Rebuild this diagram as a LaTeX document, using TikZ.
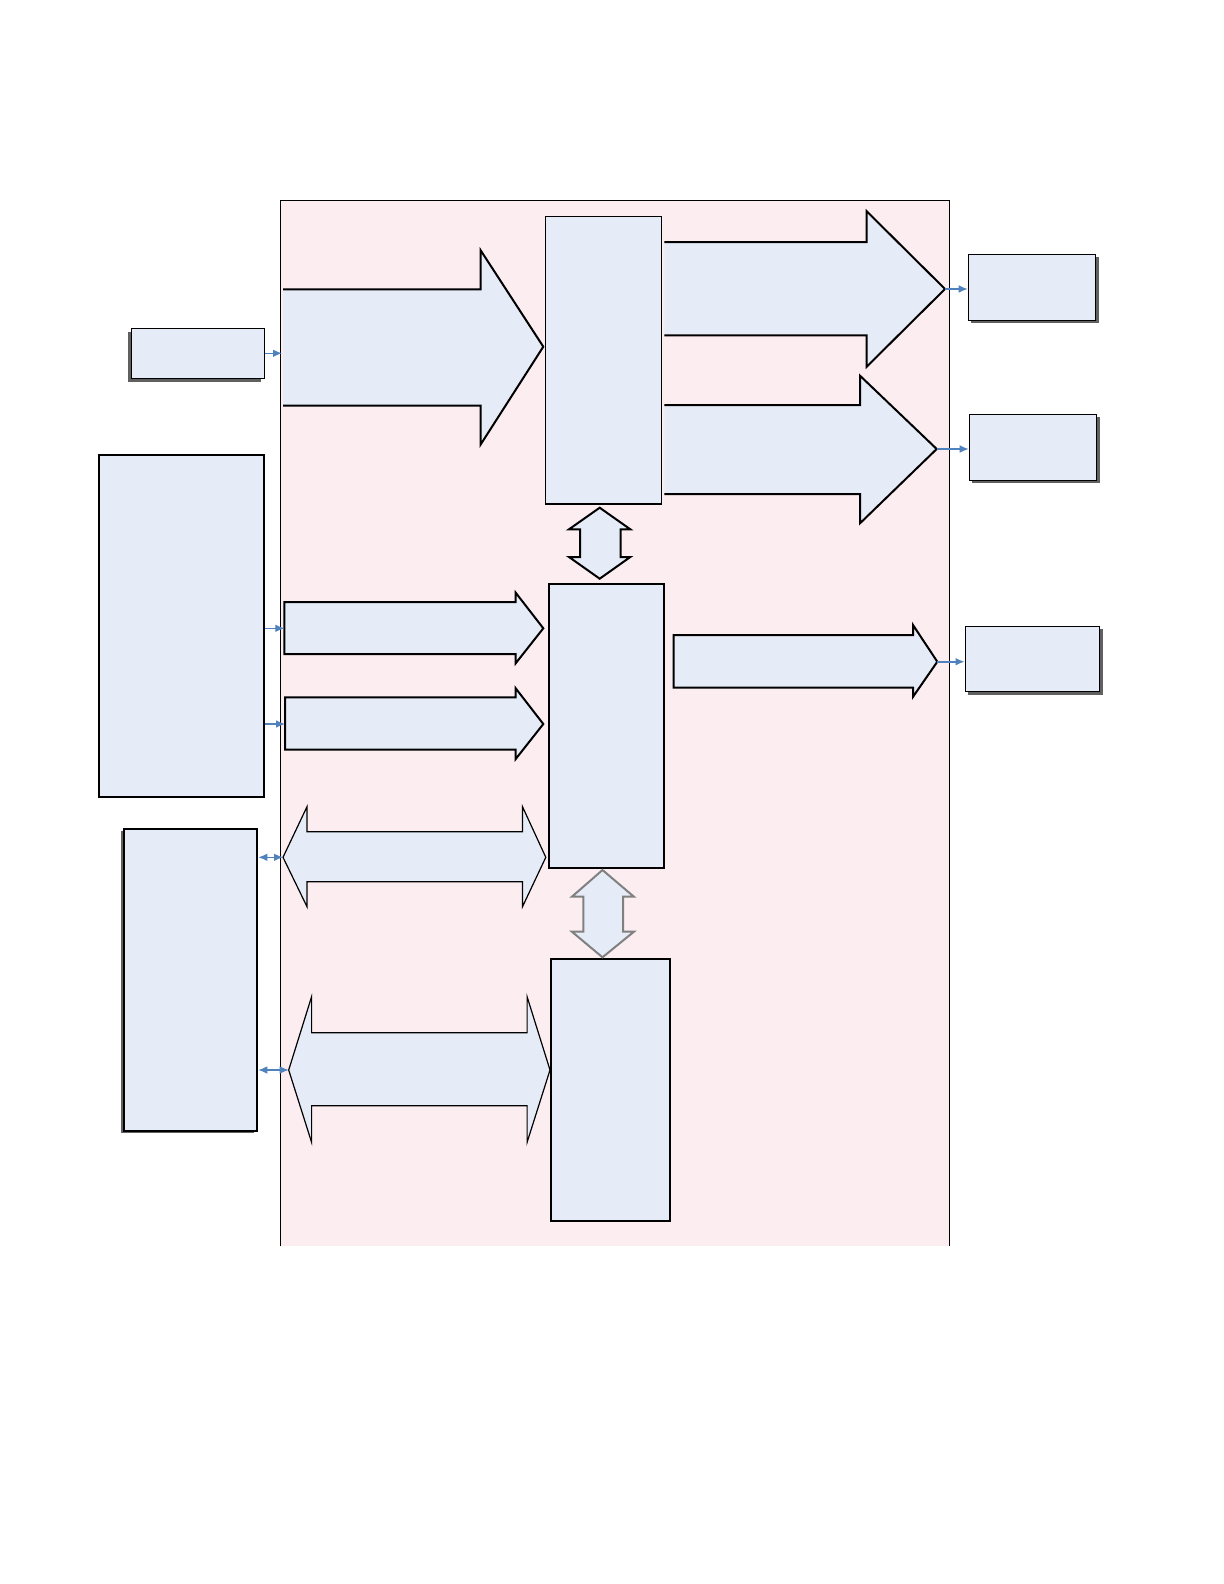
\documentclass[tikz,border=0pt]{standalone}
\usetikzlibrary{arrows.meta,shadows,fit}
\definecolor{boxfill}{RGB}{230,236,247}
\definecolor{pinkfill}{RGB}{252,237,240}
\definecolor{linkblue}{RGB}{79,129,189}
\definecolor{shadowgray}{RGB}{96,96,96}
\definecolor{arrowgray}{RGB}{128,128,128}
\tikzset{
  blockbox/.style={draw=black, fill=boxfill, line width=1pt, inner sep=0pt},
  thinbox/.style={blockbox, line width=0.6pt},
  shadowL/.style={drop shadow={shadow xshift=-1.5pt, shadow yshift=-2pt, fill=shadowgray, opacity=1}},
  shadowR/.style={drop shadow={shadow xshift=1.5pt, shadow yshift=-1.5pt, fill=shadowgray, opacity=1}},
  fatarrow/.style={draw=black, fill=boxfill, line width=1pt, line join=miter},
  slimarrow/.style={draw=black, fill=boxfill, line width=0.6pt, line join=miter},
  grayarrow/.style={draw=arrowgray, fill=boxfill, line width=1pt, line join=miter},
  link/.style={draw=linkblue, line width=0.6pt, -{Latex[length=4.5pt,width=3.8pt]}},
  duallink/.style={draw=linkblue, line width=0.6pt, {Latex[length=4.5pt,width=3.8pt]}-{Latex[length=4.5pt,width=3.8pt]}},
}
\begin{document}
\begin{tikzpicture}[x=0.5pt,y=-0.5pt]
\useasboundingbox[fill=white] (0,0) rectangle (1224,1584);

% panel
\node[fit={(281.3,201.3) (949.3,1246)}, inner sep=0pt, fill=pinkfill] (panel) {};
\draw[line width=0.5pt] (panel.south west) -- (panel.north west) -- (panel.north east) -- (panel.south east);

% outside boxes
\node[blockbox, shadowL, line width=0.8pt, fit={(131.3,328.3) (264.3,378.3)}] (TL) {};
\node[blockbox, fit={(99.3,454.7) (263.7,797)}] (L1) {};
\node[blockbox, drop shadow={shadow xshift=-1.5pt, shadow yshift=-1pt, fill=shadowgray, opacity=1}, fit={(124.1,829.3) (257.3,1130.7)}] (L2) {};
\node[thinbox, shadowR, fit={(968.3,254.3) (1095.7,320.3)}] (R1) {};
\node[thinbox, shadowR, fit={(969.3,414.3) (1096.7,480.3)}] (R2) {};
\node[thinbox, shadowR, fit={(965.3,626.3) (1099.7,691.7)}] (R3) {};

% inside boxes
\node[thinbox, fit={(545.3,216.3) (661.7,504)}] (A) {};
\node[blockbox, fit={(548.7,583.7) (664,868)}] (B) {};
\node[blockbox, fit={(550.8,959) (670,1221)}] (C) {};

% big block arrows
\draw[fatarrow] (283,289.3) -- (480.7,289.3) -- (480.7,250.4) -- (543.3,346.7) -- (480.7,444.4) -- (480.7,405.7) -- (283,405.7);
\coordinate (ba1tail) at (282,352.7);

\draw[fatarrow] (664.3,242) -- (866.7,242) -- (866.7,211.3) -- (945,289) -- (866.7,366.7) -- (866.7,335.3) -- (664.3,335.3);
\coordinate (ba2tip) at (945,289);

\draw[fatarrow] (664.3,405) -- (860,405) -- (860,375.7) -- (936.7,449) -- (860,523.3) -- (860,494) -- (664.3,494);
\coordinate (ba3tip) at (936.7,449);

\draw[fatarrow] (673.6,635.2) -- (913,635.2) -- (913,625) -- (937.3,661.7) -- (913,696.8) -- (913,687.7) -- (673.6,687.7) -- cycle;
\coordinate (matip) at (937.3,661.7);

% medium arrows L1 -> B
\draw[fatarrow] (284.3,602) -- (515.7,602) -- (515.7,592.7) -- (543.3,628.3) -- (515.7,663.3) -- (515.7,654) -- (284.3,654) -- cycle;
\coordinate (satail) at (284.3,628.3);
\draw[fatarrow] (285,697.3) -- (515.7,697.3) -- (515.7,688.3) -- (543.3,724) -- (515.7,759) -- (515.7,749.7) -- (285,749.7) -- cycle;
\coordinate (sbtail) at (285,724);

% horizontal double arrows
\draw[slimarrow] (283,857.3) -- (307,806.7) -- (307,831.7) -- (522.5,831.7) -- (522.5,806.7) -- (545.8,857.3) -- (522.5,906.7) -- (522.5,881.7) -- (307,881.7) -- (307,906.7) -- cycle;
\coordinate (da1tail) at (283,857.3);
\draw[slimarrow] (288.7,1070) -- (311.6,996.7) -- (311.6,1032.7) -- (527.1,1032.7) -- (527.1,996.7) -- (550,1070) -- (527.1,1142.3) -- (527.1,1105.7) -- (311.6,1105.7) -- (311.6,1142.3) -- cycle;
\coordinate (da2tail) at (288.7,1070);

% vertical double arrows
\draw[fatarrow] (599.7,507.7) -- (630.3,529.3) -- (620.7,529.3) -- (620.7,557) -- (630.3,557) -- (599.7,578.7) -- (569,557) -- (580,557) -- (580,529.3) -- (569,529.3) -- cycle;
\draw[grayarrow] (602.5,870) -- (633.9,896.7) -- (623.2,896.7) -- (623.2,931.7) -- (633.9,931.7) -- (602.5,957.3) -- (571.9,931.7) -- (583.3,931.7) -- (583.3,896.7) -- (571.9,896.7) -- cycle;

% connectors
\draw[link] (TL.east) -- (TL.east -| ba1tail);
\draw[link] (ba2tip) -- (ba2tip -| R1.west);
\draw[link] (ba3tip) -- (ba3tip -| R2.west);
\draw[link, line width=1pt] (matip) -- (matip -| R3.west);
\draw[link] (satail -| L1.east) -- (satail);
\draw[link] (sbtail -| L1.east) -- (sbtail);
\draw[duallink] (da1tail -| L2.east) -- (da1tail);
\draw[duallink] (da2tail -| L2.east) -- (da2tail);
\end{tikzpicture}
\end{document}
